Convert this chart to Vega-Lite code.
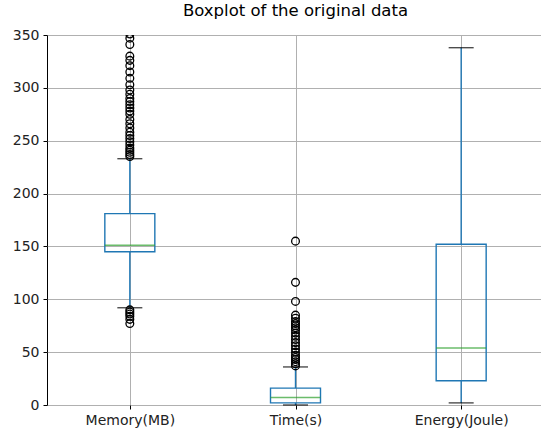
{
  "$schema": "https://vega.github.io/schema/vega-lite/v6.json",
  "autosize": "none",
  "width": 497,
  "height": 370,
  "padding": {"left": 47, "top": 35, "right": 0, "bottom": 29},
  "background": "white",
  "config": {
    "font": "DejaVu Sans",
    "view": {"stroke": "black", "strokeWidth": 1},
    "axis": {"labelFont": "DejaVu Sans", "labelFontSize": 14, "labelColor": "#222222", "domainColor": "black", "tickColor": "black", "gridColor": "#b0b0b0", "gridWidth": 1, "tickSize": 4, "labelPadding": 4, "title": null}
  },
  "title": {"text": "Boxplot of the original data", "font": "DejaVu Sans", "fontSize": 16.5, "fontWeight": "normal", "color": "black", "offset": 9},
  "datasets": {
    "stats": [
      {"var": "Memory(MB)", "lower": 92, "q1": 145, "median": 151, "q3": 181, "upper": 233},
      {"var": "Time(s)", "lower": 0, "q1": 2, "median": 7, "q3": 16, "upper": 36},
      {"var": "Energy(Joule)", "lower": 2, "q1": 23, "median": 54, "q3": 152, "upper": 338}
    ],
    "outliers": [
      {"var": "Memory(MB)", "v": 351}, {"var": "Memory(MB)", "v": 347}, {"var": "Memory(MB)", "v": 341},
      {"var": "Memory(MB)", "v": 330}, {"var": "Memory(MB)", "v": 326}, {"var": "Memory(MB)", "v": 321},
      {"var": "Memory(MB)", "v": 315}, {"var": "Memory(MB)", "v": 309}, {"var": "Memory(MB)", "v": 303},
      {"var": "Memory(MB)", "v": 298}, {"var": "Memory(MB)", "v": 294}, {"var": "Memory(MB)", "v": 290},
      {"var": "Memory(MB)", "v": 287}, {"var": "Memory(MB)", "v": 284}, {"var": "Memory(MB)", "v": 281},
      {"var": "Memory(MB)", "v": 278}, {"var": "Memory(MB)", "v": 275}, {"var": "Memory(MB)", "v": 270},
      {"var": "Memory(MB)", "v": 266}, {"var": "Memory(MB)", "v": 262}, {"var": "Memory(MB)", "v": 258},
      {"var": "Memory(MB)", "v": 255}, {"var": "Memory(MB)", "v": 252}, {"var": "Memory(MB)", "v": 249},
      {"var": "Memory(MB)", "v": 246}, {"var": "Memory(MB)", "v": 243}, {"var": "Memory(MB)", "v": 241},
      {"var": "Memory(MB)", "v": 239}, {"var": "Memory(MB)", "v": 237}, {"var": "Memory(MB)", "v": 235},
      {"var": "Memory(MB)", "v": 90}, {"var": "Memory(MB)", "v": 88}, {"var": "Memory(MB)", "v": 86},
      {"var": "Memory(MB)", "v": 84}, {"var": "Memory(MB)", "v": 81}, {"var": "Memory(MB)", "v": 77},
      {"var": "Time(s)", "v": 155}, {"var": "Time(s)", "v": 116}, {"var": "Time(s)", "v": 98},
      {"var": "Time(s)", "v": 85}, {"var": "Time(s)", "v": 82}, {"var": "Time(s)", "v": 79},
      {"var": "Time(s)", "v": 77}, {"var": "Time(s)", "v": 75}, {"var": "Time(s)", "v": 73},
      {"var": "Time(s)", "v": 71}, {"var": "Time(s)", "v": 68}, {"var": "Time(s)", "v": 65},
      {"var": "Time(s)", "v": 62}, {"var": "Time(s)", "v": 59}, {"var": "Time(s)", "v": 56},
      {"var": "Time(s)", "v": 53}, {"var": "Time(s)", "v": 50}, {"var": "Time(s)", "v": 47},
      {"var": "Time(s)", "v": 45}, {"var": "Time(s)", "v": 43}, {"var": "Time(s)", "v": 41},
      {"var": "Time(s)", "v": 39}, {"var": "Time(s)", "v": 37}
    ]
  },
  "encoding": {
    "x": {"field": "var", "type": "nominal", "sort": ["Memory(MB)", "Time(s)", "Energy(Joule)"],
          "scale": {"type": "point", "padding": 0.5},
          "axis": {"labelAngle": 0, "grid": true, "domain": false}}
  },
  "layer": [
    {
      "data": {"name": "stats"},
      "mark": {"type": "rule", "color": "#1f77b4", "strokeWidth": 1.4},
      "encoding": {
        "y": {"field": "lower", "type": "quantitative", "scale": {"domain": [0, 350], "nice": false, "zero": false},
              "axis": {"values": [0, 50, 100, 150, 200, 250, 300, 350], "grid": true, "domain": false}},
        "y2": {"field": "q1"}
      }
    },
    {
      "data": {"name": "stats"},
      "mark": {"type": "rule", "color": "#1f77b4", "strokeWidth": 1.4},
      "encoding": {
        "y": {"field": "q3", "type": "quantitative"},
        "y2": {"field": "upper"}
      }
    },
    {
      "data": {"name": "stats"},
      "mark": {"type": "bar", "size": 50, "fill": "white", "fillOpacity": 0, "stroke": "#1f77b4", "strokeWidth": 1.4},
      "encoding": {
        "y": {"field": "q1", "type": "quantitative"},
        "y2": {"field": "q3"}
      }
    },
    {
      "data": {"name": "stats"},
      "mark": {"type": "tick", "orient": "horizontal", "size": 50, "thickness": 1.5, "color": "#2ca02c"},
      "encoding": {"y": {"field": "median", "type": "quantitative"}}
    },
    {
      "data": {"name": "stats"},
      "mark": {"type": "tick", "orient": "horizontal", "size": 25, "thickness": 1.4, "color": "black"},
      "encoding": {"y": {"field": "lower", "type": "quantitative"}}
    },
    {
      "data": {"name": "stats"},
      "mark": {"type": "tick", "orient": "horizontal", "size": 25, "thickness": 1.4, "color": "black"},
      "encoding": {"y": {"field": "upper", "type": "quantitative"}}
    },
    {
      "data": {"name": "outliers"},
      "mark": {"type": "point", "shape": "circle", "filled": false, "size": 60, "stroke": "black", "strokeWidth": 1.3, "opacity": 1, "clip": true},
      "encoding": {"y": {"field": "v", "type": "quantitative"}}
    }
  ]
}
